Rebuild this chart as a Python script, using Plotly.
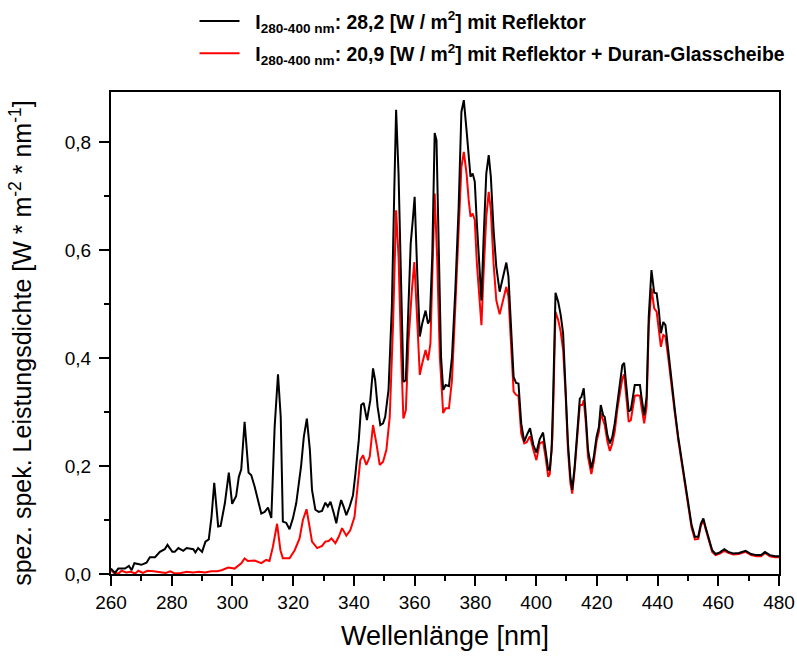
import plotly.graph_objects as go

# Wavelength [nm] and spectral power density [W m^-2 nm^-1]
wl_refl = [260.0, 261.3, 262.4, 264.6, 265.9, 266.8, 267.7, 270.0, 271.7, 272.8, 274.5, 276.1, 277.7, 278.6,
           280.2, 281.0, 282.2, 283.8, 284.9, 287.1, 287.8, 288.7, 290.0, 291.1, 292.2, 293.1, 294.0, 295.3,
           296.1, 297.5, 298.8, 299.9, 301.2, 302.1, 302.9, 304.0, 305.3, 306.2, 307.3, 308.4, 309.5, 310.6,
           311.7, 312.8, 313.9, 315.0, 315.9, 316.6, 317.7, 318.8, 319.9, 321.0, 321.8, 322.6, 323.5, 324.5,
           325.5, 326.2, 327.3, 328.4, 329.5, 330.6, 331.4, 332.3, 333.4, 334.2, 335.0, 335.8, 336.6, 337.5,
           338.6, 339.7, 340.5, 341.6, 342.4, 343.2, 344.3, 345.4, 346.3, 347.0, 347.8, 348.7, 349.6, 350.3,
           351.4, 352.5, 353.3, 353.9, 354.7, 355.5, 356.3, 357.1, 358.0, 358.7, 359.4, 360.0, 360.9, 361.7,
           362.5, 363.6, 364.4, 365.0, 365.8, 366.6, 367.2, 368.0, 368.7, 369.4, 370.2, 371.3, 372.3, 373.4,
           374.5, 375.4, 376.2, 377.1, 377.8, 378.4, 379.1, 379.8, 380.5, 381.3, 382.0, 382.7, 383.6, 384.4,
           385.1, 386.0, 386.9, 388.0, 389.1, 390.2, 390.9, 391.7, 392.6, 393.4, 394.2, 395.1, 396.1, 396.9,
           398.0, 399.1, 400.1, 401.2, 402.3, 403.1, 404.0, 404.5, 405.1, 405.6, 406.4, 407.3, 408.1, 408.9,
           409.7, 410.5, 411.3, 411.9, 412.7, 413.6, 414.4, 414.9, 415.7, 416.4, 417.1, 418.2, 419.0, 419.9,
           420.7, 421.3, 422.1, 422.6, 423.5, 424.3, 425.1, 425.9, 426.8, 427.6, 428.4, 429.0, 429.8, 430.5,
           431.2, 432.0, 432.5, 433.4, 434.2, 434.7, 435.6, 436.4, 437.1, 438.0, 438.9, 439.7, 440.4, 441.1,
           441.9, 442.6, 443.5, 444.6, 445.7, 446.8, 447.9, 449.0, 450.1, 451.2, 452.3, 453.4, 454.3, 455.1,
           455.9, 456.9, 458.0, 459.1, 460.5, 462.0, 463.3, 464.9, 466.8, 469.0, 470.8, 472.6, 474.1, 475.4,
           477.0, 478.7, 480.0]
val_refl = [0.010, 0.002, 0.010, 0.010, 0.015, 0.007, 0.020, 0.017, 0.021, 0.031, 0.031, 0.041, 0.046, 0.054,
            0.041, 0.041, 0.048, 0.043, 0.048, 0.046, 0.040, 0.048, 0.041, 0.060, 0.064, 0.106, 0.169, 0.088,
            0.089, 0.131, 0.188, 0.130, 0.144, 0.180, 0.194, 0.282, 0.188, 0.183, 0.162, 0.137, 0.112, 0.115,
            0.123, 0.104, 0.273, 0.370, 0.291, 0.097, 0.095, 0.083, 0.103, 0.131, 0.168, 0.200, 0.254, 0.288,
            0.230, 0.156, 0.119, 0.115, 0.117, 0.132, 0.125, 0.134, 0.112, 0.094, 0.119, 0.137, 0.125, 0.109,
            0.125, 0.146, 0.186, 0.248, 0.313, 0.317, 0.285, 0.322, 0.381, 0.359, 0.310, 0.276, 0.279, 0.291,
            0.341, 0.495, 0.711, 0.860, 0.742, 0.526, 0.356, 0.359, 0.526, 0.612, 0.656, 0.699, 0.551, 0.440,
            0.464, 0.488, 0.464, 0.470, 0.588, 0.817, 0.804, 0.588, 0.402, 0.341, 0.350, 0.348, 0.402, 0.526,
            0.680, 0.856, 0.878, 0.822, 0.773, 0.736, 0.742, 0.727, 0.649, 0.575, 0.507, 0.619, 0.742, 0.776,
            0.736, 0.637, 0.569, 0.523, 0.548, 0.577, 0.551, 0.464, 0.365, 0.354, 0.353, 0.279, 0.245, 0.257,
            0.270, 0.239, 0.225, 0.250, 0.262, 0.230, 0.193, 0.193, 0.230, 0.322, 0.521, 0.504, 0.480, 0.446,
            0.353, 0.242, 0.180, 0.156, 0.199, 0.273, 0.325, 0.328, 0.344, 0.291, 0.230, 0.196, 0.217, 0.254,
            0.273, 0.313, 0.294, 0.291, 0.257, 0.242, 0.254, 0.279, 0.322, 0.353, 0.387, 0.391, 0.341, 0.301,
            0.304, 0.328, 0.350, 0.350, 0.350, 0.328, 0.294, 0.328, 0.477, 0.563, 0.521, 0.520, 0.490, 0.446,
            0.467, 0.461, 0.415, 0.353, 0.304, 0.254, 0.211, 0.168, 0.125, 0.091, 0.069, 0.069, 0.094, 0.103,
            0.085, 0.063, 0.044, 0.037, 0.040, 0.046, 0.041, 0.038, 0.039, 0.043, 0.037, 0.035, 0.035, 0.041,
            0.035, 0.033, 0.033]

wl_glass = [260.0, 261.0, 262.5, 263.5, 265.0, 266.5, 268.0, 269.0, 270.5, 272.0, 274.0, 276.0, 278.0, 279.5,
            281.0, 283.0, 285.0, 287.0, 289.0, 291.0, 293.0, 295.0, 296.4, 298.6, 300.7, 302.9, 304.0, 305.1,
            307.3, 309.5, 311.1, 312.2, 313.3, 314.7, 315.8, 316.6, 318.8, 320.5, 322.1, 323.2, 324.4, 325.2,
            326.2, 327.9, 329.5, 330.6, 331.7, 332.6, 333.9, 335.0, 336.1, 337.5, 338.8, 340.2, 341.0, 342.1,
            343.0, 344.1, 345.2, 346.3, 347.4, 348.5, 349.6, 350.7, 351.8, 352.9, 353.9, 354.7, 355.6, 356.3,
            357.1, 358.0, 359.1, 359.9, 360.9, 361.7, 362.5, 363.6, 364.4, 365.2, 366.0, 366.6, 367.4, 368.3,
            369.4, 370.2, 371.3, 372.3, 373.4, 374.5, 375.4, 376.2, 377.1, 377.8, 378.4, 379.1, 379.8, 380.5,
            381.3, 382.0, 382.7, 383.6, 384.4, 385.1, 386.0, 386.9, 388.0, 389.1, 390.2, 390.9, 391.7, 392.6,
            393.4, 394.2, 395.1, 396.1, 396.9, 398.0, 399.1, 400.1, 401.2, 402.3, 403.1, 404.0, 404.5, 405.4,
            406.4, 407.3, 408.1, 408.9, 409.7, 410.5, 411.3, 411.9, 412.7, 413.6, 414.4, 415.2, 415.7, 416.4,
            417.1, 418.2, 419.0, 419.9, 420.7, 421.3, 422.1, 422.6, 423.5, 424.3, 425.1, 425.9, 426.8, 427.6,
            428.4, 429.0, 429.8, 430.5, 431.2, 432.0, 432.5, 433.4, 434.2, 434.7, 435.6, 436.4, 437.1, 438.0,
            438.9, 439.7, 440.4, 441.1, 441.9, 442.6, 443.5, 444.6, 445.7, 446.8, 447.9, 449.0, 450.1, 451.2,
            452.3, 453.4, 454.3, 455.1, 455.9, 456.9, 458.0, 459.1, 460.5, 462.0, 463.3, 464.9, 466.8, 469.0,
            470.8, 472.6, 474.1, 475.4, 477.0, 478.7, 480.0]
val_glass = [0.007, 0.002, 0.001, 0.006, 0.003, 0.004, 0.001, 0.006, 0.002, 0.006, 0.005, 0.003, 0.002, 0.005,
             0.001, 0.002, 0.004, 0.003, 0.004, 0.003, 0.005, 0.005, 0.007, 0.012, 0.010, 0.020, 0.029, 0.024,
             0.025, 0.020, 0.026, 0.024, 0.050, 0.093, 0.044, 0.029, 0.029, 0.044, 0.066, 0.100, 0.120, 0.094,
             0.060, 0.048, 0.052, 0.060, 0.061, 0.066, 0.057, 0.069, 0.085, 0.071, 0.081, 0.106, 0.156, 0.211,
             0.220, 0.202, 0.217, 0.276, 0.242, 0.202, 0.208, 0.230, 0.291, 0.464, 0.674, 0.588, 0.402, 0.288,
             0.303, 0.433, 0.526, 0.578, 0.464, 0.369, 0.390, 0.415, 0.396, 0.427, 0.588, 0.705, 0.588, 0.402,
             0.298, 0.307, 0.307, 0.359, 0.495, 0.637, 0.754, 0.782, 0.742, 0.693, 0.662, 0.668, 0.656, 0.575,
             0.514, 0.461, 0.557, 0.662, 0.708, 0.674, 0.575, 0.507, 0.481, 0.507, 0.532, 0.514, 0.433, 0.338,
             0.332, 0.330, 0.260, 0.242, 0.244, 0.255, 0.230, 0.211, 0.242, 0.245, 0.217, 0.180, 0.185, 0.254,
             0.486, 0.470, 0.449, 0.415, 0.335, 0.230, 0.168, 0.149, 0.193, 0.260, 0.313, 0.313, 0.322, 0.279,
             0.217, 0.185, 0.208, 0.245, 0.264, 0.298, 0.282, 0.276, 0.245, 0.228, 0.242, 0.264, 0.307, 0.335,
             0.362, 0.370, 0.322, 0.282, 0.285, 0.310, 0.330, 0.331, 0.330, 0.310, 0.279, 0.310, 0.458, 0.529,
             0.492, 0.486, 0.452, 0.421, 0.443, 0.440, 0.402, 0.345, 0.298, 0.249, 0.206, 0.163, 0.120, 0.086,
             0.064, 0.065, 0.090, 0.099, 0.082, 0.060, 0.041, 0.035, 0.038, 0.043, 0.039, 0.036, 0.037, 0.041,
             0.035, 0.033, 0.033, 0.039, 0.033, 0.031, 0.031]

name_refl = "&nbsp;&nbsp;I<sub>280-400 nm</sub>: 28,2 [W / m<sup>2</sup>] mit Reflektor"
name_glass = "&nbsp;&nbsp;I<sub>280-400 nm</sub>: 20,9 [W / m<sup>2</sup>] mit Reflektor + Duran-Glasscheibe"
y_title = "spez. spek. Leistungsdichte [W * m<sup>-2</sup> * nm<sup>-1</sup>]"
x_title = "Wellenlänge [nm]"

x_ticks = list(range(260, 481, 20))
y_ticks = [0.0, 0.2, 0.4, 0.6, 0.8]

FONT = "Liberation Sans, Arial, sans-serif"

fig = go.Figure()
fig.add_trace(go.Scatter(x=wl_glass, y=val_glass, mode="lines", name=name_glass, legendgroup="g",
                         line=dict(color="#ff0000", width=2), legendrank=2))
fig.add_trace(go.Scatter(x=wl_refl, y=val_refl, mode="lines", name=name_refl, legendgroup="r",
                         line=dict(color="#000000", width=2), legendrank=1))

axis_common = dict(showline=True, linecolor="black", linewidth=2, mirror=True,
                   ticks="outside", ticklen=10, tickwidth=2, tickcolor="black",
                   showgrid=False, zeroline=False,
                   tickfont=dict(family=FONT, size=19, color="black"))

fig.update_xaxes(range=[260, 480], tickvals=x_ticks, ticktext=[str(v) for v in x_ticks],
                 minor=dict(ticks="outside", dtick=10, tick0=260, ticklen=5, tickwidth=2, tickcolor="black"),
                 title=dict(text=x_title, font=dict(family=FONT, size=27, color="black"), standoff=14),
                 **axis_common)
fig.update_yaxes(range=[0, 0.893], tickvals=y_ticks, tickformat=".1f", ticklabelstandoff=4,
                 minor=dict(ticks="outside", dtick=0.1, tick0=0, ticklen=5, tickwidth=2, tickcolor="black"),
                 **axis_common)

# y-axis title placed slightly below the plot centre, as in the reference
fig.add_annotation(text=y_title, textangle=-90, xref="paper", yref="paper",
                   x=-0.136, y=0.48, xanchor="center", yanchor="middle", showarrow=False,
                   font=dict(family=FONT, size=25, color="black"))

fig.update_layout(
    width=797, height=659,
    margin=dict(l=111, r=18, t=92, b=85, autoexpand=False),
    paper_bgcolor="white", plot_bgcolor="white",
    separators=",.",
    font=dict(family=FONT, color="black"),
    showlegend=True,
    legend=dict(x=0.125, y=1.187, xanchor="left", yanchor="top", tracegroupgap=4,
                font=dict(family=FONT, size=19.4, color="black", weight="bold"),
                bgcolor="rgba(0,0,0,0)", itemwidth=40),
)

fig.write_html("out.html")
